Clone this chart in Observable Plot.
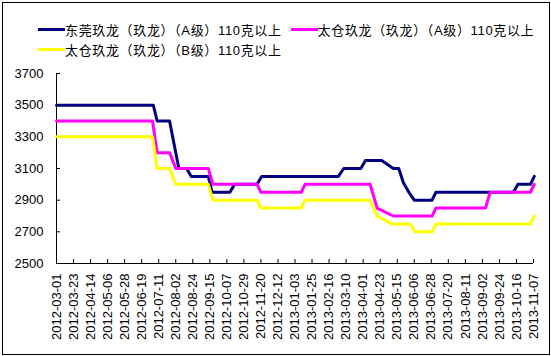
<!DOCTYPE html>
<html>
<head>
<meta charset="utf-8">
<script src="https://cdn.jsdelivr.net/npm/d3@7"></script>
<script src="https://cdn.jsdelivr.net/npm/@observablehq/plot@0.6"></script>
<style>
  html, body { margin: 0; padding: 0; background: #fff; }
  #wrap { position: relative; width: 551px; height: 356px; overflow: hidden; font-family: "Liberation Sans", Arial, "Noto Sans CJK SC", sans-serif; }
  #frame { position: absolute; left: 2px; top: 2px; width: 548px; height: 353px; box-sizing: border-box; border: 1px solid #000; pointer-events: none; }
  #legend { position: relative; height: 58px; box-sizing: border-box; padding-top: 19px; padding-left: 38px; width: 540px; }
  #legend .items { display: flex; flex-wrap: wrap; width: 505px; column-gap: 9px; }
  #legend .item { display: flex; align-items: center; height: 20px; font-size: 13px; letter-spacing: 0.65px; color: #000; white-space: nowrap; }
  #legend .swatch { width: 27px; height: 3px; margin-right: 0px; }
  #chart svg { display: block; }
</style>
</head>
<body>
<div id="wrap">
  <div id="legend"><div class="items"></div></div>
  <div id="chart"></div>
  <div id="frame"></div>
</div>
<script>
// Series names and colours
const seriesNames = [
  "东莞玖龙（玖龙）（A级）110克以上",
  "太仓玖龙（玖龙）（A级）110克以上",
  "太仓玖龙（玖龙）（B级）110克以上"
];
const seriesColors = ["#000080", "#FF00FF", "#FFFF00"];

// 东莞玖龙 A级
const dgDates = ["2012-03-01","2012-07-04","2012-07-09","2012-07-25","2012-08-06","2012-08-16","2012-08-22","2012-09-13","2012-09-18","2012-10-11","2012-10-17","2012-11-15","2012-11-21","2013-02-28","2013-03-07","2013-03-29","2013-04-04","2013-04-25","2013-05-10","2013-05-17","2013-05-23","2013-05-30","2013-06-06","2013-06-29","2013-07-04","2013-10-12","2013-10-18","2013-11-03","2013-11-08"];
const dgValues = [3500,3500,3400,3400,3100,3100,3050,3050,2950,2950,3000,3000,3050,3050,3100,3100,3150,3150,3100,3100,3010,2950,2900,2900,2950,2950,3000,3000,3050];

// 太仓玖龙 A级
const tcaDates = ["2012-03-01","2012-07-03","2012-07-09","2012-07-25","2012-08-02","2012-09-13","2012-09-19","2012-11-15","2012-11-20","2013-01-11","2013-01-16","2013-04-10","2013-04-19","2013-05-10","2013-06-29","2013-07-04","2013-09-06","2013-09-12","2013-11-03","2013-11-08"];
const tcaValues = [3400,3400,3200,3200,3100,3100,3000,3000,2950,2950,3000,3000,2850,2800,2800,2850,2850,2950,2950,3000];

// 太仓玖龙 B级
const tcbDates = ["2012-03-01","2012-07-03","2012-07-09","2012-07-25","2012-08-02","2012-09-13","2012-09-19","2012-11-15","2012-11-20","2013-01-11","2013-01-16","2013-04-10","2013-04-19","2013-05-08","2013-06-01","2013-06-07","2013-06-29","2013-07-04","2013-11-03","2013-11-08"];
const tcbValues = [3300,3300,3100,3100,3000,3000,2900,2900,2850,2850,2900,2900,2800,2750,2750,2700,2700,2750,2750,2800];

// Axis ticks
const xTickLabels = ["2012-03-01","2012-03-23","2012-04-14","2012-05-06","2012-05-28","2012-06-19","2012-07-11","2012-08-02","2012-08-24","2012-09-15","2012-10-07","2012-10-29","2012-11-20","2012-12-12","2013-01-03","2013-01-25","2013-02-16","2013-03-10","2013-04-01","2013-04-23","2013-05-15","2013-06-06","2013-06-28","2013-07-20","2013-08-11","2013-09-02","2013-09-24","2013-10-16","2013-11-07"];
const yTicks = [2500, 2700, 2900, 3100, 3300, 3500, 3700];

const parse = d3.utcParse("%Y-%m-%d");
const fmt = d3.utcFormat("%Y-%m-%d");
const xTicks = xTickLabels.map(parse);

function rows(dates, values, name) {
  return dates.map((d, i) => ({date: parse(d), value: values[i], series: name}));
}
const dg = rows(dgDates, dgValues, seriesNames[0]);
const tca = rows(tcaDates, tcaValues, seriesNames[1]);
const tcb = rows(tcbDates, tcbValues, seriesNames[2]);

// Legend
const items = document.querySelector("#legend .items");
seriesNames.forEach((n, i) => {
  const it = document.createElement("div");
  it.className = "item";
  const sw = document.createElement("span");
  sw.className = "swatch";
  sw.style.background = seriesColors[i];
  const tx = document.createElement("span");
  tx.textContent = n;
  it.appendChild(sw);
  it.appendChild(tx);
  items.appendChild(it);
});

const chart = Plot.plot({
  width: 551,
  height: 298,
  marginTop: 15,
  marginBottom: 93,
  marginLeft: 56,
  marginRight: 18,
  style: {fontFamily: "'Liberation Sans', Arial, sans-serif", fontSize: "13px", color: "#000", background: "transparent", overflow: "visible"},
  x: {type: "utc", domain: [xTicks[0], xTicks[xTicks.length - 1]], label: null},
  y: {domain: [2500, 3700], label: null},
  marks: [
    Plot.ruleX([xTicks[0]], {stroke: "#000", strokeWidth: 1}),
    Plot.ruleY([2500], {stroke: "#000", strokeWidth: 1}),
    Plot.axisX(xTicks, {tickSize: 4, dy: -4, tickFormat: () => "", stroke: "#000", label: null}),
    Plot.axisX(xTicks, {tickSize: 0, tickPadding: 10, tickRotate: -90, tickFormat: fmt, fontSize: 13, fill: "#000", textAnchor: "end", label: null}),
    Plot.axisY(yTicks, {tickSize: 4, dx: 4, tickFormat: () => "", stroke: "#000", label: null}),
    Plot.axisY(yTicks, {tickSize: 0, tickPadding: 13, fontSize: 13, fill: "#000", tickFormat: d => String(d), label: null}),
    Plot.line(dg, {x: "date", y: "value", stroke: seriesColors[0], strokeWidth: 3}),
    Plot.line(tca, {x: "date", y: "value", stroke: seriesColors[1], strokeWidth: 3}),
    Plot.line(tcb, {x: "date", y: "value", stroke: seriesColors[2], strokeWidth: 3})
  ]
});
document.getElementById("chart").appendChild(chart);
</script>
</body>
</html>
